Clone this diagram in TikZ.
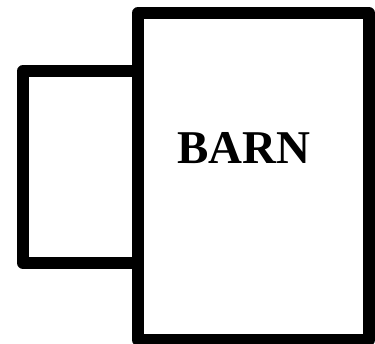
\documentclass[tikz,border=0pt]{standalone}
\usepackage{fontspec}
\setmainfont{Liberation Serif}
\begin{document}
\begin{tikzpicture}[x=1pt,y=1pt,
  wall/.style={draw=black,line width=12pt,line join=round},
  label/.style={font=\bfseries\fontsize{47}{50}\selectfont,inner sep=0pt}]
\useasboundingbox (0,0) rectangle (375,344);
% side shed
\draw[wall] (23,81) rectangle (138,273);
% main barn
\draw[wall] (138,4) rectangle (369,331);
\node[label,anchor=base] (barn) at (244,180) {BARN};
\end{tikzpicture}
\end{document}
